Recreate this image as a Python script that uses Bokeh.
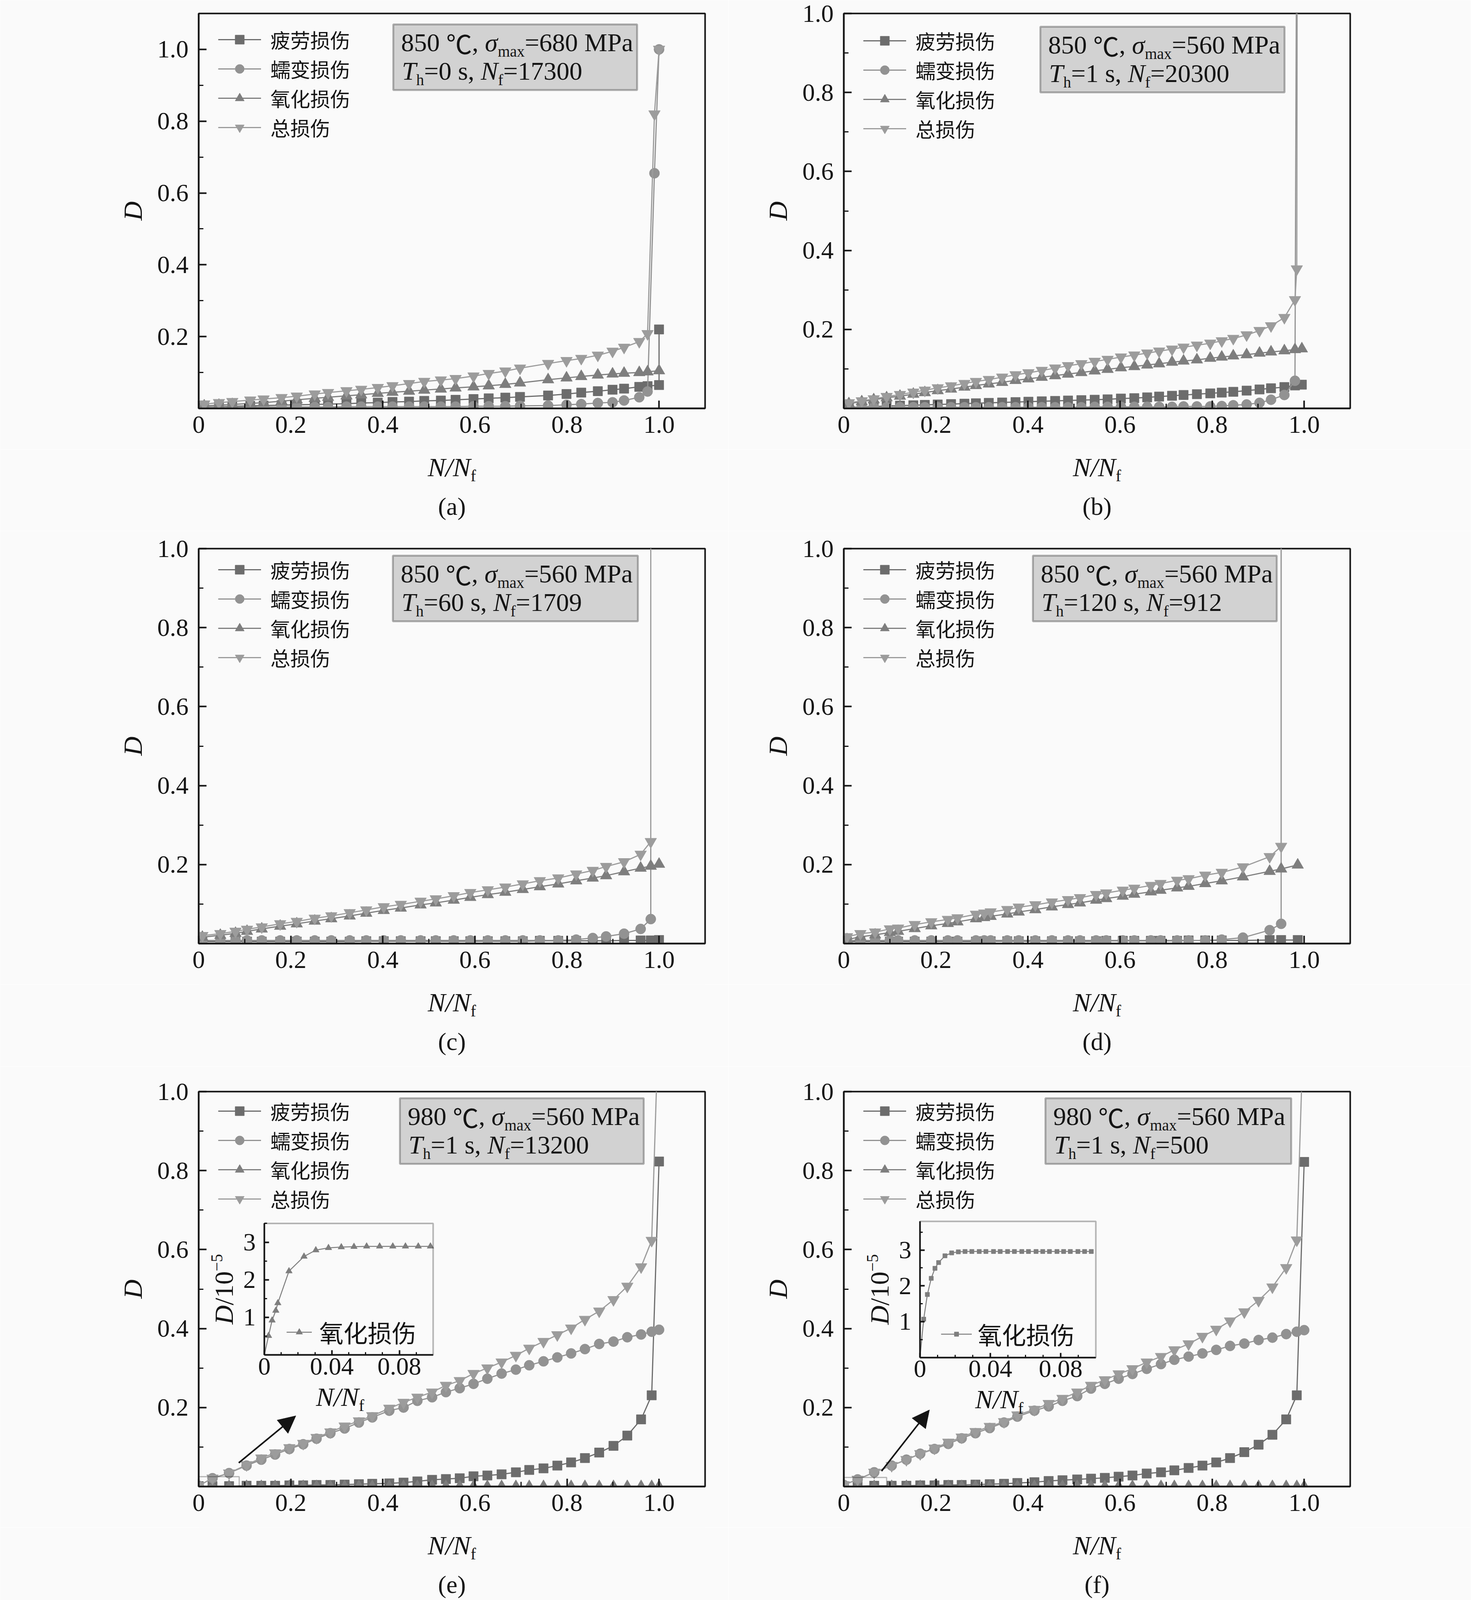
import math
from bokeh.plotting import figure
from bokeh.models import (Range1d, FixedTicker, PrintfTickFormatter, Label, Legend, LegendItem,
                          BoxAnnotation, Arrow, NormalHead, LinearAxis)
from bokeh.layouts import column, row
from bokeh.embed import file_html
from bokeh.resources import INLINE

# ---------------- text content ----------------
SERIES_LABELS = ["疲劳损伤", "蠕变损伤", "氧化损伤", "总损伤"]
INSET_LABEL = "氧化损伤"
TEMPS = ["850", "850", "850", "850", "980", "980"]
SIGMAS = ["680", "560", "560", "560", "560", "560"]
HOLDS = ["0", "1", "60", "120", "1", "1"]
NFS = ["17300", "20300", "1709", "912", "13200", "500"]
CAPTIONS = ["(a)", "(b)", "(c)", "(d)", "(e)", "(f)"]
Y_MAX = [1.1, 1.0, 1.0, 1.0, 1.0, 1.0]

X_TICKS = [0, 0.2, 0.4, 0.6, 0.8, 1.0]
X_MINOR = [0.1, 0.3, 0.5, 0.7, 0.9]
Y_TICKS = [0.2, 0.4, 0.6, 0.8, 1.0]
Y_MINOR = [0.1, 0.3, 0.5, 0.7, 0.9]
INSET_X_TICKS = [0, 0.04, 0.08]
INSET_X_MINOR = [0.01, 0.02, 0.03, 0.05, 0.06, 0.07, 0.09]
INSET_Y_TICKS = [1, 2, 3]
INSET_Y_MINOR = [0.5, 1.5, 2.5, 3.5]

# ---------------- panel (a) ----------------
A_X = [0.012, 0.044, 0.073, 0.112, 0.141, 0.180, 0.213, 0.252, 0.281, 0.321, 0.353, 0.389, 0.421, 0.457,
       0.490, 0.526, 0.558, 0.597, 0.630, 0.666, 0.698, 0.759, 0.799, 0.831, 0.867, 0.899, 0.924, 0.957,
       0.975, 1.0]
A_FAT_X = A_X + [1.0]
A_FAT = [0.004, 0.005, 0.006, 0.007, 0.008, 0.009, 0.010, 0.011, 0.012, 0.013, 0.015, 0.016, 0.018, 0.019,
         0.021, 0.022, 0.024, 0.026, 0.028, 0.030, 0.032, 0.036, 0.040, 0.044, 0.048, 0.052, 0.055, 0.060,
         0.062, 0.065, 0.220]
A_CREEP_X = A_X[:29] + [0.990, 1.0]
A_CREEP = [0.004, 0.004, 0.004, 0.004, 0.004, 0.004, 0.004, 0.004, 0.004, 0.005, 0.005, 0.005, 0.005, 0.005,
           0.005, 0.005, 0.005, 0.006, 0.006, 0.006, 0.007, 0.008, 0.010, 0.012, 0.015, 0.017, 0.022, 0.031,
           0.047, 0.655, 1.0]
A_OXI_X = A_X
A_OXI = [0.007, 0.009, 0.011, 0.014, 0.016, 0.020, 0.024, 0.028, 0.031, 0.035, 0.038, 0.042, 0.045, 0.048,
         0.051, 0.054, 0.057, 0.060, 0.063, 0.067, 0.071, 0.080, 0.085, 0.089, 0.093, 0.096, 0.098, 0.100,
         0.102, 0.105]
A_TOT_X = A_X[:29] + [0.990, 1.0]
A_TOT = [0.012, 0.016, 0.019, 0.023, 0.026, 0.030, 0.034, 0.040, 0.044, 0.049, 0.053, 0.058, 0.063, 0.069,
         0.075, 0.079, 0.083, 0.090, 0.097, 0.104, 0.112, 0.125, 0.133, 0.139, 0.148, 0.159, 0.170, 0.186,
         0.208, 0.820, 1.0]

# ---------------- panel (b) ----------------
B_X = [0.011, 0.039, 0.065, 0.093, 0.122, 0.151, 0.176, 0.204, 0.233, 0.262, 0.287, 0.315, 0.344, 0.373,
       0.401, 0.430, 0.459, 0.487, 0.516, 0.545, 0.573, 0.602, 0.631, 0.659, 0.685, 0.713, 0.738, 0.767,
       0.796, 0.821, 0.846, 0.875, 0.903, 0.928, 0.957, 0.980]
B_FAT_X = B_X + [0.995]
B_FAT = [0.003, 0.004, 0.005, 0.006, 0.007, 0.008, 0.009, 0.010, 0.011, 0.012, 0.013, 0.014, 0.015, 0.016,
         0.017, 0.018, 0.019, 0.020, 0.021, 0.022, 0.023, 0.025, 0.026, 0.028, 0.030, 0.032, 0.034, 0.036,
         0.038, 0.040, 0.042, 0.045, 0.048, 0.051, 0.054, 0.058, 0.060]
B_CREEP_X = B_X + [0.986]
B_CREEP = [0.003, 0.003, 0.003, 0.003, 0.003, 0.003, 0.003, 0.003, 0.003, 0.003, 0.003, 0.003, 0.003, 0.003,
           0.003, 0.003, 0.003, 0.003, 0.003, 0.004, 0.004, 0.004, 0.004, 0.004, 0.004, 0.004, 0.005, 0.005,
           0.005, 0.006, 0.008, 0.010, 0.014, 0.022, 0.034, 0.070, 2.0]
B_OXI_X = B_X + [0.995]
B_OXI = [0.012, 0.017, 0.022, 0.027, 0.031, 0.036, 0.040, 0.045, 0.049, 0.054, 0.058, 0.062, 0.066, 0.071,
         0.075, 0.079, 0.083, 0.087, 0.091, 0.095, 0.099, 0.103, 0.106, 0.110, 0.113, 0.117, 0.120, 0.123,
         0.127, 0.130, 0.133, 0.136, 0.140, 0.143, 0.146, 0.149, 0.151]
B_TOT_X = B_X + [0.984, 0.986]
B_TOT = [0.014, 0.019, 0.024, 0.030, 0.035, 0.041, 0.046, 0.052, 0.057, 0.063, 0.068, 0.073, 0.079, 0.085,
         0.090, 0.096, 0.102, 0.108, 0.113, 0.119, 0.124, 0.130, 0.135, 0.140, 0.145, 0.150, 0.155, 0.160,
         0.165, 0.171, 0.177, 0.186, 0.197, 0.209, 0.230, 0.275, 0.353, 2.0]

# ---------------- panel (c) ----------------
C_X = [0.008, 0.047, 0.080, 0.105, 0.137, 0.177, 0.213, 0.252, 0.288, 0.328, 0.364, 0.402, 0.439, 0.482,
       0.515, 0.554, 0.590, 0.628, 0.666, 0.704, 0.741, 0.781, 0.820, 0.856, 0.885, 0.924, 0.960, 0.982]
C_FAT_X = C_X + [1.0]
C_FAT = [0.005, 0.005, 0.005, 0.005, 0.005, 0.005, 0.005, 0.005, 0.005, 0.005, 0.006, 0.006, 0.006, 0.006,
         0.006, 0.006, 0.006, 0.006, 0.006, 0.006, 0.007, 0.007, 0.007, 0.007, 0.007, 0.008, 0.008, 0.008,
         0.009]
C_CREEP_X = C_X + [0.982]
C_CREEP = [0.008, 0.008, 0.008, 0.008, 0.008, 0.008, 0.008, 0.008, 0.008, 0.008, 0.008, 0.008, 0.008, 0.008,
           0.008, 0.008, 0.008, 0.008, 0.008, 0.008, 0.008, 0.008, 0.010, 0.014, 0.018, 0.025, 0.037, 0.062,
           2.0]
C_OXI_X = C_X + [1.0]
C_OXI = [0.016, 0.021, 0.026, 0.031, 0.037, 0.044, 0.050, 0.057, 0.063, 0.070, 0.077, 0.084, 0.090, 0.098,
         0.103, 0.110, 0.117, 0.124, 0.130, 0.137, 0.144, 0.151, 0.159, 0.166, 0.172, 0.182, 0.191, 0.196,
         0.201]
C_TOT_X = C_X + [0.982]
C_TOT = [0.020, 0.025, 0.031, 0.036, 0.042, 0.050, 0.056, 0.064, 0.070, 0.078, 0.085, 0.093, 0.099, 0.107,
         0.113, 0.121, 0.129, 0.136, 0.143, 0.151, 0.159, 0.166, 0.176, 0.185, 0.195, 0.207, 0.226, 0.258,
         2.0]

# ---------------- panel (d) ----------------
D_X = [0.007, 0.036, 0.068, 0.100, 0.118, 0.154, 0.190, 0.226, 0.247, 0.287, 0.305, 0.319, 0.355, 0.380,
       0.416, 0.452, 0.487, 0.513, 0.548, 0.570, 0.606, 0.631, 0.667, 0.688, 0.724, 0.749, 0.785, 0.821,
       0.867, 0.925, 0.950, 0.986]
D_FAT_X = D_X
D_FAT = [0.005, 0.005, 0.005, 0.005, 0.005, 0.005, 0.005, 0.005, 0.005, 0.005, 0.006, 0.006, 0.006, 0.006,
         0.006, 0.006, 0.006, 0.006, 0.006, 0.007, 0.007, 0.007, 0.007, 0.007, 0.007, 0.008, 0.008, 0.008,
         0.008, 0.009, 0.009, 0.009]
D_CREEP_X = D_X[:31] + [0.950]
D_CREEP = [0.008, 0.008, 0.008, 0.008, 0.008, 0.008, 0.008, 0.008, 0.008, 0.008, 0.008, 0.008, 0.008, 0.008,
           0.008, 0.008, 0.008, 0.008, 0.008, 0.008, 0.008, 0.008, 0.008, 0.008, 0.008, 0.008, 0.008, 0.010,
           0.015, 0.034, 0.050, 2.0]
D_OXI_X = D_X
D_OXI = [0.010, 0.017, 0.022, 0.028, 0.031, 0.038, 0.045, 0.051, 0.055, 0.063, 0.066, 0.069, 0.075, 0.080,
         0.086, 0.093, 0.099, 0.103, 0.110, 0.114, 0.120, 0.125, 0.131, 0.135, 0.141, 0.145, 0.152, 0.159,
         0.169, 0.183, 0.189, 0.199]
D_TOT_X = D_X[:31] + [0.950]
D_TOT = [0.017, 0.025, 0.029, 0.037, 0.039, 0.048, 0.055, 0.061, 0.065, 0.074, 0.077, 0.080, 0.086, 0.092,
         0.098, 0.105, 0.111, 0.116, 0.124, 0.128, 0.135, 0.140, 0.147, 0.152, 0.160, 0.164, 0.173, 0.180,
         0.194, 0.220, 0.246, 2.0]

# ---------------- panels (e) and (f) ----------------
EF_X = [0.0, 0.030, 0.066, 0.104, 0.136, 0.166, 0.197, 0.227, 0.256, 0.286, 0.317, 0.348, 0.377, 0.414,
        0.445, 0.475, 0.507, 0.537, 0.567, 0.597, 0.627, 0.658, 0.689, 0.718, 0.749, 0.779, 0.809, 0.839,
        0.870, 0.901, 0.931, 0.961, 0.984, 1.0]
E_FAT = [0.001, 0.001, 0.001, 0.002, 0.002, 0.002, 0.003, 0.003, 0.004, 0.004, 0.005, 0.006, 0.007, 0.008,
         0.010, 0.013, 0.017, 0.019, 0.021, 0.026, 0.028, 0.031, 0.036, 0.042, 0.046, 0.053, 0.061, 0.072,
         0.086, 0.103, 0.129, 0.170, 0.231, 0.823]
E_CREEP = [0.002, 0.021, 0.034, 0.053, 0.068, 0.081, 0.095, 0.107, 0.121, 0.135, 0.147, 0.162, 0.175, 0.192,
           0.200, 0.217, 0.226, 0.239, 0.249, 0.260, 0.273, 0.286, 0.296, 0.307, 0.317, 0.327, 0.337, 0.348,
           0.361, 0.367, 0.378, 0.385, 0.392, 0.397]
E_OXI = [0.0, 2.79e-5, 2.89e-5, 2.89e-5, 2.89e-5, 2.89e-5, 2.89e-5, 2.89e-5, 2.89e-5, 2.89e-5, 2.89e-5,
         2.89e-5, 2.89e-5, 2.89e-5, 2.89e-5, 2.89e-5, 2.89e-5, 2.89e-5, 2.89e-5, 2.89e-5, 2.89e-5, 2.89e-5,
         2.89e-5, 2.89e-5, 2.89e-5, 2.89e-5, 2.89e-5, 2.89e-5, 2.89e-5, 2.89e-5, 2.89e-5, 2.89e-5, 2.89e-5,
         2.89e-5]
E_TOT = [0.002, 0.021, 0.034, 0.055, 0.072, 0.085, 0.098, 0.109, 0.124, 0.138, 0.153, 0.166, 0.179, 0.198,
         0.213, 0.226, 0.239, 0.256, 0.268, 0.286, 0.300, 0.315, 0.332, 0.350, 0.367, 0.384, 0.401, 0.423,
         0.444, 0.473, 0.507, 0.556, 0.623, 1.220]
E_INSET_X = [0.0, 0.0025, 0.0046, 0.0068, 0.0080, 0.0146, 0.0235, 0.0305, 0.0380, 0.0456, 0.0531, 0.0606,
             0.0683, 0.0761, 0.0836, 0.0912, 0.0984]
E_INSET_Y = [0.0, 0.51, 0.92, 1.18, 1.38, 2.23, 2.62, 2.79, 2.85, 2.87, 2.88, 2.89, 2.89, 2.89, 2.89, 2.89,
             2.89]

F_FAT = [0.001, 0.001, 0.002, 0.002, 0.002, 0.003, 0.003, 0.004, 0.004, 0.005, 0.006, 0.007, 0.009, 0.011,
         0.014, 0.016, 0.018, 0.020, 0.022, 0.025, 0.028, 0.033, 0.036, 0.041, 0.047, 0.053, 0.061, 0.072,
         0.087, 0.106, 0.131, 0.170, 0.231, 0.822]
F_CREEP = [0.004, 0.018, 0.036, 0.053, 0.068, 0.083, 0.095, 0.108, 0.122, 0.135, 0.148, 0.162, 0.177, 0.192,
           0.203, 0.217, 0.229, 0.248, 0.260, 0.273, 0.285, 0.298, 0.310, 0.321, 0.329, 0.337, 0.346, 0.356,
           0.362, 0.371, 0.377, 0.386, 0.392, 0.396]
F_OXI = [0.0, 2.96e-5, 2.96e-5, 2.96e-5, 2.96e-5, 2.96e-5, 2.96e-5, 2.96e-5, 2.96e-5, 2.96e-5, 2.96e-5,
         2.96e-5, 2.96e-5, 2.96e-5, 2.96e-5, 2.96e-5, 2.96e-5, 2.96e-5, 2.96e-5, 2.96e-5, 2.96e-5, 2.96e-5,
         2.96e-5, 2.96e-5, 2.96e-5, 2.96e-5, 2.96e-5, 2.96e-5, 2.96e-5, 2.96e-5, 2.96e-5, 2.96e-5, 2.96e-5,
         2.96e-5]
F_TOT = [0.004, 0.018, 0.036, 0.053, 0.068, 0.083, 0.097, 0.112, 0.125, 0.139, 0.152, 0.164, 0.181, 0.195,
         0.210, 0.223, 0.239, 0.256, 0.270, 0.285, 0.298, 0.315, 0.329, 0.346, 0.361, 0.380, 0.398, 0.419,
         0.442, 0.471, 0.505, 0.554, 0.624, 1.218]
F_INSET_X = [0.0, 0.0021, 0.0042, 0.0064, 0.0085, 0.0106, 0.0142, 0.0180, 0.0218, 0.0256, 0.0295, 0.0337,
             0.0375, 0.0418, 0.0456, 0.0498, 0.0537, 0.0579, 0.0617, 0.0660, 0.0698, 0.0736, 0.0779, 0.0817,
             0.0855, 0.0898, 0.0936, 0.0974]
F_INSET_Y = [0.0, 1.07, 1.76, 2.21, 2.49, 2.65, 2.84, 2.92, 2.95, 2.96, 2.96, 2.96, 2.96, 2.96, 2.96, 2.96,
             2.96, 2.96, 2.96, 2.96, 2.96, 2.96, 2.96, 2.96, 2.96, 2.96, 2.96, 2.96]

# ---------------- styles ----------------
SERIF = "Liberation Serif"
CJK = "Noto Sans CJK SC"
BG = "#fafafa"
INK = "#141414"
COL_FAT = "#6c6c6c"
COL_CREEP = "#929292"
COL_OXI = "#7e7e7e"
COL_TOT = "#9c9c9c"
KY = 0.952                 # vertical layout scale so the whole page fits the visible height
FW, FH = 1296, round(1062 * KY)
AXIS_BOTTOM = 105          # space under each frame kept for the tick labels
CJK_BOX = 1.448            # line box of the CJK font, in em
LEG_PITCH = round(79 * KY)
LEG_SIZE = 51              # legend text size that lets rows sit LEG_PITCH apart without overlapping

LEG_ROW1 = [round(v * KY) for v in (70, 74, 57, 57, 53, 53)]
BOX_TOP = [round(v * KY) for v in (29, 36, 19, 19, 18, 18)]
BOX_H = round(176 * KY)
BOX_L = [498, 503, 497, 484, 515, 516]
BOX_R = [1122, 1128, 1124, 1108, 1139, 1145]
XLABEL_DY = round(158 * KY)
CAPTION_DY = round(264 * KY)

W_REG = {"0": 0.5, "1": 0.5, "2": 0.5, "3": 0.5, "4": 0.5, "5": 0.5, "6": 0.5, "7": 0.5, "8": 0.5,
         "9": 0.5, " ": 0.25, "=": 0.564, ",": 0.25, ".": 0.25, "M": 0.889, "P": 0.556, "a": 0.444,
         "m": 0.778, "x": 0.5, "s": 0.389, "h": 0.5, "f": 0.333, "/": 0.278, "(": 0.333, ")": 0.333,
         "\u2212": 0.564}
W_IT = {"T": 0.556, "N": 0.667, "D": 0.722, "\u03c3": 0.5, "/": 0.278}


def text_w(s, size, italic=False, cjk=False):
    if cjk:
        return size * len(s)
    tab = W_IT if italic else W_REG
    return size * sum(tab.get(c, W_REG.get(c, 0.5)) for c in s)


def label(p, x, y, text, size, font=SERIF, style="normal", align="left", baseline="middle", angle=0.0):
    p.add_layout(Label(x=x, y=y, x_units="screen", y_units="screen", text=text, text_font=font,
                       text_font_size=f"{size}px", text_font_style=style, text_color=INK,
                       text_align=align, text_baseline=baseline, angle=angle))


def rich(p, x, yc, pieces, size, sub, angle=0.0, center=False, drop=14, rise=26):
    """Pieces of text laid side by side; yc is the visual middle of the main-size text."""
    specs = []
    for text, kind in pieces:
        italic = kind == "i"
        cjk = kind == "cjk"
        sz = sub if kind in ("sub", "sup") else size
        if kind == "sub":
            shift = -(0.34 * size + drop - 0.34 * sub)
        elif kind == "sup":
            shift = rise + 0.34 * sub - 0.34 * size
        else:
            shift = 0.0
        specs.append((text, italic, cjk, sz, shift, text_w(text, sz, italic, cjk)))
    total = sum(s[5] for s in specs)
    pos = -total / 2 if center else 0.0
    for text, italic, cjk, sz, shift, w in specs:
        if angle == 0:
            px, py = x + pos, yc + shift
        else:
            px, py = x - shift, yc + pos
        label(p, px, py, text, sz, font=CJK if cjk else SERIF, style="italic" if italic else "normal",
              angle=angle)
        pos += w


def style_axis(ax, tick_in, minor_in, standoff):
    ax.axis_line_width = 4
    ax.axis_line_color = INK
    ax.major_tick_in = tick_in
    ax.major_tick_out = 0
    ax.minor_tick_in = minor_in
    ax.minor_tick_out = 0
    ax.major_tick_line_width = 4
    ax.minor_tick_line_width = 3
    ax.major_tick_line_color = INK
    ax.minor_tick_line_color = INK
    ax.major_label_text_font = SERIF
    ax.major_label_text_font_size = "64px"
    ax.major_label_text_color = INK
    ax.major_label_standoff = standoff


def legend_row(p, item, x, center_from_bottom, glyph_w, glyph_h, standoff, size):
    item_h = CJK_BOX * size
    p.add_layout(Legend(items=[item], location=(x, center_from_bottom - item_h / 2),
                        glyph_width=glyph_w, glyph_height=glyph_h, label_height=glyph_h,
                        label_standoff=standoff, spacing=0, padding=0, margin=0, label_text_font=CJK,
                        label_text_font_size=f"{size}px", label_text_color=INK, border_line_alpha=0,
                        background_fill_alpha=0))


def make_panel(i, series, bl, br, bt, inset=None, arrow=None, zbox=None):
    p = figure(frame_width=FW, frame_height=FH, x_range=Range1d(0, 1.1), y_range=Range1d(0, Y_MAX[i]),
               output_backend="svg", toolbar_location=None, min_border_left=bl, min_border_right=br,
               min_border_top=bt, min_border_bottom=AXIS_BOTTOM, background_fill_color=BG,
               border_fill_color=BG, outline_line_color=INK, outline_line_width=4)
    p.grid.visible = False
    xa = p.below[0]
    ya = p.left[0]
    xa.ticker = FixedTicker(ticks=X_TICKS, minor_ticks=X_MINOR)
    xa.formatter = PrintfTickFormatter(format="%.1f")
    xa.major_label_overrides = {0: "0"}
    ya.ticker = FixedTicker(ticks=Y_TICKS, minor_ticks=Y_MINOR)
    ya.formatter = PrintfTickFormatter(format="%.1f")
    style_axis(xa, 20, 12, 20)
    style_axis(ya, 20, 12, 26)
    ya.axis_label = "D"
    ya.axis_label_text_font = SERIF
    ya.axis_label_text_font_style = "italic"
    ya.axis_label_text_font_size = "68px"
    ya.axis_label_text_color = INK
    ya.axis_label_standoff = 22

    for k, (xs, ys, color, marker, size, name) in enumerate(series):
        lr = p.line(xs, ys, line_color=color, line_width=3)
        sr = p.scatter(xs, ys, marker=marker, size=size, fill_color=color, line_color=color)
        legend_row(p, LegendItem(label=name, renderers=[lr, sr]), 50,
                   FH - (LEG_ROW1[i] + k * LEG_PITCH), 110, 58, 24, LEG_SIZE)

    # condition box
    top = FH - BOX_TOP[i]
    p.add_layout(BoxAnnotation(left=BOX_L[i], right=BOX_R[i], top=top, bottom=top - BOX_H,
                               left_units="screen", right_units="screen", top_units="screen",
                               bottom_units="screen", fill_color="#d2d2d2", fill_alpha=1.0,
                               line_color=INK, line_width=5))
    rich(p, BOX_L[i] + 20, top - round(48 * KY),
         [(TEMPS[i] + " ", "n"), ("\u2103", "cjk"), (", ", "n"), ("\u03c3", "i"), ("max", "sub"),
          ("=" + SIGMAS[i] + " MPa", "n")], 66, 40)
    rich(p, BOX_L[i] + 22, top - round(125 * KY),
         [("T", "i"), ("h", "sub"), ("=" + HOLDS[i] + " s, ", "n"), ("N", "i"), ("f", "sub"),
          ("=" + NFS[i], "n")], 66, 40)

    if zbox is not None:
        p.add_layout(BoxAnnotation(left=zbox[0], right=zbox[1], bottom=zbox[2], top=zbox[3],
                                   fill_alpha=0, line_color=INK, line_width=3))
    if arrow is not None:
        p.add_layout(Arrow(end=NormalHead(size=44, fill_color=INK, line_color=INK), x_start=arrow[0],
                           y_start=arrow[1], x_end=arrow[2], y_end=arrow[3], line_color=INK, line_width=4))

    if inset is not None:
        (L, R, T, B, ymax_i, ixs, iys, marker, isize, gw, gh, ldx, ldy, lstand) = inset
        T, B, ldy = T * KY, B * KY, ldy * KY
        xspan = 0.1 * FW / (R - L)
        xs0 = -L / FW * xspan
        bup, tup = FH - B, FH - T
        yspan = ymax_i * FH / (tup - bup)
        ys0 = -bup / FH * yspan
        p.extra_x_ranges = {"ix": Range1d(xs0, xs0 + xspan)}
        p.extra_y_ranges = {"iy": Range1d(ys0, ys0 + yspan)}
        il = p.line(ixs, iys, x_range_name="ix", y_range_name="iy", line_color=COL_OXI, line_width=2.5)
        isr = p.scatter(ixs[1:], iys[1:], x_range_name="ix", y_range_name="iy", marker=marker, size=isize,
                        fill_color=COL_OXI, line_color=COL_OXI)
        p.add_layout(BoxAnnotation(left=0, right=0.1, bottom=0, top=ymax_i, x_range_name="ix",
                                   y_range_name="iy", fill_alpha=0, line_color=INK, line_width=4))
        axb = LinearAxis(x_range_name="ix", y_range_name="iy", fixed_location=0, bounds=(0, 0.1),
                         ticker=FixedTicker(ticks=INSET_X_TICKS, minor_ticks=INSET_X_MINOR),
                         formatter=PrintfTickFormatter(format="%.2f"), major_label_overrides={0: "0"})
        style_axis(axb, 12, 7, 8)
        p.add_layout(axb, "below")
        axl = LinearAxis(x_range_name="ix", y_range_name="iy", fixed_location=0, bounds=(0, ymax_i),
                         ticker=FixedTicker(ticks=INSET_Y_TICKS, minor_ticks=INSET_Y_MINOR),
                         formatter=PrintfTickFormatter(format="%d"))
        style_axis(axl, 12, 7, 22)
        p.add_layout(axl, "left")
        rich(p, (L + R) / 2 - 22, bup - round(112 * KY), [("N/N", "i"), ("f", "sub")], 68, 42, center=True)
        rich(p, L - 104, (bup + tup) / 2, [("D", "i"), ("/10", "n"), ("\u22125", "sup")], 68, 42,
             angle=math.pi / 2, center=True)
        legend_row(p, LegendItem(label=INSET_LABEL, renderers=[il, isr]), L + ldx, bup + ldy, gw, gh,
                   lstand, 62)
    return p


def make_caption(i, bl, br, hc):
    c = figure(frame_width=FW, frame_height=hc, x_range=Range1d(0, 1), y_range=Range1d(0, 1),
               x_axis_type=None, y_axis_type=None, output_backend="svg", toolbar_location=None,
               min_border_left=bl, min_border_right=br, min_border_top=0, min_border_bottom=0,
               background_fill_color=BG, border_fill_color=BG, outline_line_color=None)
    c.grid.visible = False
    # x axis title of the panel above, then the sub-figure caption
    rich(c, FW / 2, hc - (XLABEL_DY - AXIS_BOTTOM), [("N/N", "i"), ("f", "sub")], 68, 42, center=True)
    label(c, FW / 2, hc - (CAPTION_DY - AXIS_BOTTOM), CAPTIONS[i], 64, align="center", baseline="middle")
    return c


def series_set(fx, f, cx, c, ox, o, tx, t):
    return [(fx, f, COL_FAT, "square", 24, SERIES_LABELS[0]),
            (cx, c, COL_CREEP, "circle", 26, SERIES_LABELS[1]),
            (ox, o, COL_OXI, "triangle", 30, SERIES_LABELS[2]),
            (tx, t, COL_TOT, "inverted_triangle", 30, SERIES_LABELS[3])]


BL1, BR1, BL2, BR2 = 508, 60, 295, 309
TOP1, TOP2, TOP3 = 34, 45, 64
HC1, HC2, HC3 = 209, 210, 186
pa = make_panel(0, series_set(A_FAT_X, A_FAT, A_CREEP_X, A_CREEP, A_OXI_X, A_OXI, A_TOT_X, A_TOT),
                BL1, BR1, TOP1)
pb = make_panel(1, series_set(B_FAT_X, B_FAT, B_CREEP_X, B_CREEP, B_OXI_X, B_OXI, B_TOT_X, B_TOT),
                BL2, BR2, TOP1)
pc = make_panel(2, series_set(C_FAT_X, C_FAT, C_CREEP_X, C_CREEP, C_OXI_X, C_OXI, C_TOT_X, C_TOT),
                BL1, BR1, TOP2)
pd = make_panel(3, series_set(D_FAT_X, D_FAT, D_CREEP_X, D_CREEP, D_OXI_X, D_OXI, D_TOT_X, D_TOT),
                BL2, BR2, TOP2)
pe = make_panel(4, series_set(EF_X, E_FAT, EF_X, E_CREEP, EF_X, E_OXI, EF_X, E_TOT), BL1, BR1, TOP3,
                inset=(168, 600, 354.5, 708, 3.5, E_INSET_X, E_INSET_Y, "triangle", 17, 65, 42, 57, 61, 19),
                arrow=(0.087, 0.060, 0.211, 0.179), zbox=(0.0, 0.088, 0.0, 0.025))
pf = make_panel(5, series_set(EF_X, F_FAT, EF_X, F_CREEP, EF_X, F_OXI, EF_X, F_TOT), BL2, BR2, TOP3,
                inset=(195, 645, 349, 715, 3.8, F_INSET_X, F_INSET_Y, "square", 11, 79, 28, 54, 63, 15),
                arrow=(0.082, 0.039, 0.186, 0.194), zbox=(0.0, 0.093, 0.0, 0.023))

ca, cb = make_caption(0, BL1, BR1, HC1), make_caption(1, BL2, BR2, HC1)
cc, cd = make_caption(2, BL1, BR1, HC2), make_caption(3, BL2, BR2, HC2)
ce, cf = make_caption(4, BL1, BR1, HC3), make_caption(5, BL2, BR2, HC3)

layout = column(row(column(pa, ca), column(pb, cb)),
                row(column(pc, cc), column(pd, cd)),
                row(column(pe, ce), column(pf, cf)))
open("out.html", "w").write(file_html(layout, INLINE))
